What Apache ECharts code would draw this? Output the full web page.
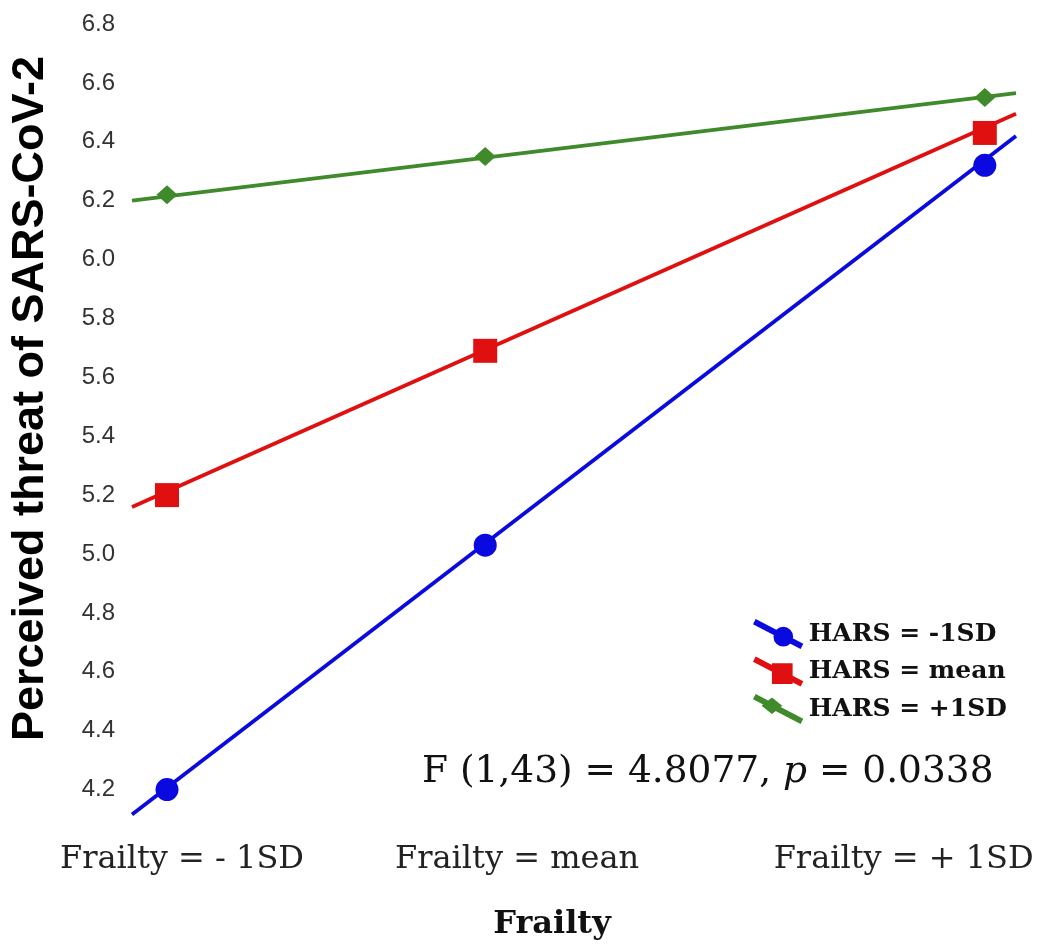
<!DOCTYPE html>
<html>
<head>
<meta charset="utf-8">
<script src="https://cdn.jsdelivr.net/npm/echarts@6/dist/echarts.min.js"></script>
<style>html,body{margin:0;padding:0;background:#fff;}#chart{width:1038px;height:946px;}</style>
</head>
<body>
<div id="chart"></div>
<script>
// Frailty levels (x positions of the plotted points, in frailty units)
const frailtyX = [-1, 0, 1.57];
const frailtyLabels = ['Frailty = - 1SD', 'Frailty = mean', 'Frailty = + 1SD'];
const frailtyLabelX = [-0.953, 0.10, 1.315];
// x range covered by the drawn regression lines
const lineXRange = [-1.11, 1.668];

const seriesNames = ['HARS = -1SD', 'HARS = mean', 'HARS = +1SD'];
// values at the three frailty levels
const harsLow = [4.20, 5.03, 6.32];
const harsMean = [5.20, 5.69, 6.43];
const harsHigh = [6.22, 6.35, 6.55];
// regression line end values (at lineXRange)
const harsLowLine = [4.115, 6.42];
const harsMeanLine = [5.16, 6.495];
const harsHighLine = [6.20, 6.565];

const yTicks = [4.2, 4.4, 4.6, 4.8, 5.0, 5.2, 5.4, 5.6, 5.8, 6.0, 6.2, 6.4, 6.6, 6.8];
const annotationText = ['F (1,43) = 4.8077, ', 'p', ' = 0.0338'];

const colors = ['#0a0ae0', '#e01010', '#3f8a2b'];
const symbols = ['circle', 'rect', 'diamond'];
const symbolSizes = [23, 24, [21, 19]];

// legend icon: diagonal line with a marker on it
const K = 24 / 46;
function lineY(x) { return 2 + K * (x - 2); }
function seg(a, b) {
  const nx = -1.3, ny = 2.5;
  const ya = lineY(a), yb = lineY(b);
  const p = (x, y) => x.toFixed(2) + ',' + y.toFixed(2);
  return 'M' + p(a + nx, ya + ny) + ' L' + p(a - nx, ya - ny) + ' L' + p(b - nx, yb - ny) + ' L' + p(b + nx, yb + ny) + ' Z ';
}
function circleIcon(cx, r) {
  const cy = lineY(cx);
  return 'path://' + seg(2, 48) +
    'M' + cx + ',' + (cy - r) + ' A' + r + ',' + r + ' 0 1 1 ' + (cx - 0.01) + ',' + (cy - r) + ' Z';
}
function rectIcon(cx, h) {
  const cy = lineY(cx);
  return 'path://' + seg(2, 48) +
    'M' + (cx - h) + ',' + (cy - h) + ' L' + (cx + h) + ',' + (cy - h) + ' L' + (cx + h) + ',' + (cy + h) + ' L' + (cx - h) + ',' + (cy + h) + ' Z';
}
function diamondIcon(cx, w, h) {
  const cy = lineY(cx);
  return 'path://' + seg(2, 48) +
    'M' + (cx - w) + ',' + cy + ' L' + cx + ',' + (cy - h) + ' L' + (cx + w) + ',' + cy + ' L' + cx + ',' + (cy + h) + ' Z';
}
const icons = [circleIcon(30, 9.5), rectIcon(29, 10), diamondIcon(19, 10, 8)];

const pointSets = [harsLow, harsMean, harsHigh];
const lineSets = [harsLowLine, harsMeanLine, harsHighLine];

const series = [];
lineSets.forEach((vals, i) => {
  series.push({
    type: 'line',
    name: seriesNames[i] + ' line',
    data: vals.map((v, k) => [lineXRange[k], v]),
    symbol: 'none',
    lineStyle: { color: colors[i], width: 3.8 },
    silent: true,
    z: 2
  });
});
pointSets.forEach((vals, i) => {
  series.push({
    type: 'scatter',
    name: seriesNames[i],
    data: vals.map((v, k) => [frailtyX[k], v]),
    symbol: symbols[i],
    symbolSize: symbolSizes[i],
    itemStyle: { color: colors[i], opacity: 1 },
    z: 3
  });
});

const chart = echarts.init(document.getElementById('chart'), null, { renderer: 'canvas' });
chart.setOption({
  animation: false,
  backgroundColor: '#ffffff',
  grid: { left: 130, right: 22, top: 24, bottom: 124.5 },
  xAxis: {
    type: 'value',
    min: lineXRange[0],
    max: lineXRange[1],
    axisLine: { show: false },
    axisTick: { show: false },
    splitLine: { show: false },
    axisLabel: {
      customValues: frailtyLabelX,
      formatter: (v) => {
        const idx = frailtyLabelX.findIndex(t => Math.abs(t - v) < 1e-6);
        return idx >= 0 ? frailtyLabels[idx] : '';
      },
      margin: 25,
      fontFamily: 'DejaVu Serif',
      fontSize: 32,
      color: '#222222'
    },
    name: 'Frailty',
    nameLocation: 'middle',
    nameGap: 90,
    nameTextStyle: {
      fontFamily: 'DejaVu Serif',
      fontWeight: 'bold',
      fontSize: 32,
      color: '#111111',
      padding: [0, 44, 0, 0]
    }
  },
  yAxis: {
    type: 'value',
    min: 4.1,
    max: 6.8,
    axisLine: { show: false },
    axisTick: { show: false },
    splitLine: { show: false },
    axisLabel: {
      customValues: yTicks,
      formatter: (v) => v.toFixed(1),
      margin: 17,
      fontFamily: 'Liberation Sans',
      fontSize: 24,
      color: '#333333'
    },
    name: 'Perceived threat of SARS-CoV-2',
    nameLocation: 'middle',
    nameRotate: 90,
    nameGap: 79,
    nameTextStyle: {
      fontFamily: 'Liberation Sans',
      fontWeight: 'bold',
      fontSize: 45,
      color: '#000000',
      padding: [0, 0, 0, 46]
    }
  },
  legend: {
    orient: 'vertical',
    left: 748,
    top: 614,
    itemWidth: 51,
    itemHeight: 30,
    itemGap: 7.5,
    data: seriesNames.map((n, i) => ({ name: n, icon: icons[i] })),
    textStyle: {
      fontFamily: 'DejaVu Serif',
      fontWeight: 'bold',
      fontSize: 25,
      color: '#111111'
    }
  },
  graphic: [{
    type: 'text',
    left: 422,
    top: 753,
    style: {
      text: '{a|' + annotationText[0] + '}{i|' + annotationText[1] + '}{a|' + annotationText[2] + '}',
      rich: {
        a: { fontFamily: 'DejaVu Serif', fontSize: 37.5, fill: '#111111' },
        i: { fontFamily: 'DejaVu Serif', fontStyle: 'italic', fontSize: 37.5, fill: '#111111' }
      }
    }
  }],
  series: series
});
</script>
</body>
</html>
